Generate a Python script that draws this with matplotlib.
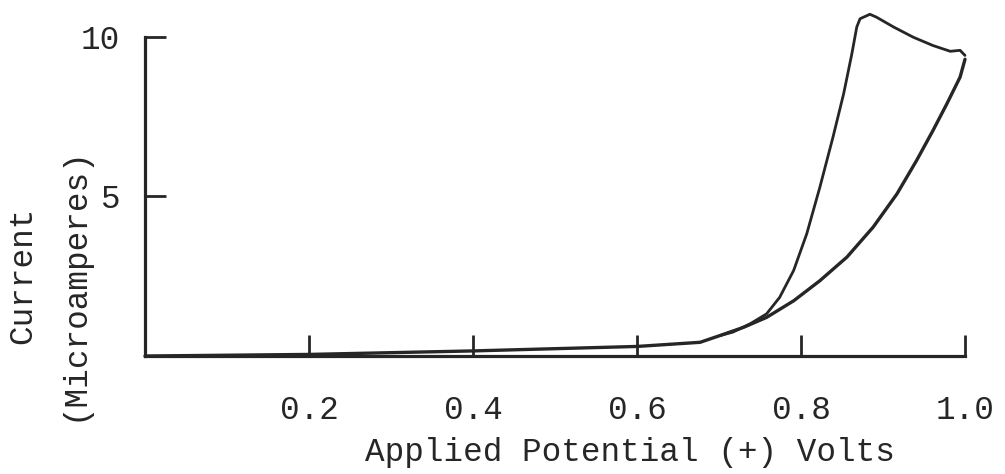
import matplotlib
matplotlib.use("Agg")
import matplotlib.pyplot as plt

# forward sweep (potential going up)
fwd_volts = [0.0, 0.2, 0.4, 0.6, 0.677, 0.701, 0.730, 0.758, 0.791, 0.823, 0.856, 0.888,
             0.917, 0.941, 0.961, 0.978, 0.994, 1.0]
fwd_current = [0.0, 0.05, 0.16, 0.3, 0.43, 0.64, 0.90, 1.21, 1.73, 2.36, 3.10, 4.04,
               5.08, 6.13, 7.07, 7.91, 8.74, 9.3]

# reverse sweep (potential coming back)
rev_volts = [1.0, 0.994, 0.982, 0.961, 0.937, 0.913, 0.892, 0.884, 0.872, 0.868, 0.862, 0.852,
             0.839, 0.823, 0.807, 0.791, 0.774, 0.758, 0.738, 0.717, 0.701]
rev_current = [9.42, 9.58, 9.55, 9.73, 9.99, 10.31, 10.62, 10.71, 10.57, 10.31, 9.47, 8.22,
               6.86, 5.29, 3.83, 2.68, 1.84, 1.32, 1.01, 0.75, 0.64]

x_ticks = [0.2, 0.4, 0.6, 0.8, 1.0]
x_tick_labels = ["0.2", "0.4", "0.6", "0.8", "1.0"]
y_ticks = [5, 10]
y_tick_labels = ["5", "10"]

ink = '#262626'
plt.rcParams['font.family'] = ['Liberation Mono', 'DejaVu Sans Mono']
fs = 23.5

fig = plt.figure(figsize=(10.05, 4.74), dpi=100)
ax = fig.add_axes([0.1443, 0.2489, 0.8159, 0.7405])

ax.plot(fwd_volts, fwd_current, color=ink, linewidth=2.4, clip_on=False,
        solid_capstyle='round', solid_joinstyle='round')
ax.plot(rev_volts, rev_current, color=ink, linewidth=2.0, clip_on=False,
        solid_capstyle='round', solid_joinstyle='round')

ax.set_xlim(0, 1.0)
ax.set_ylim(0, 11)

for side in ['top', 'right']:
    ax.spines[side].set_visible(False)
ax.spines['left'].set_bounds(0, 10)
ax.spines['bottom'].set_bounds(0, 1.0)
for side in ['left', 'bottom']:
    ax.spines[side].set_linewidth(2.3)
    ax.spines[side].set_color(ink)
    ax.spines[side].set_capstyle('projecting')

ax.set_xticks(x_ticks)
ax.set_xticklabels(x_tick_labels)
ax.set_yticks(y_ticks)
ax.set_yticklabels(y_tick_labels)

ax.tick_params(axis='both', direction='in', length=15, width=2, color=ink,
               labelsize=fs, labelcolor=ink)
ax.tick_params(axis='x', pad=28)
ax.tick_params(axis='y', pad=18)

fig.text(630 / 1005, 1 - 452 / 474, "Applied Potential (+) Volts", fontsize=fs,
         color=ink, ha='center', va='center')
fig.text(23 / 1005, 1 - 275 / 474, "Current", fontsize=fs, color=ink,
         rotation=90, ha='center', va='center')
fig.text(74 / 1005, 1 - 284 / 474, "(Microamperes)", fontsize=fs, color=ink,
         rotation=90, ha='center', va='center')

fig.savefig("out.png", dpi=100)
